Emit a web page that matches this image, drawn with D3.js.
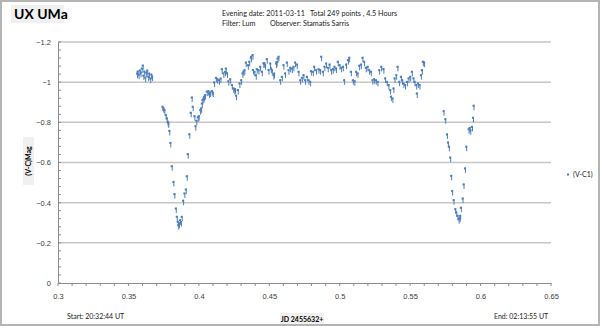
<!DOCTYPE html>
<html>
<head>
<meta charset="utf-8">
<script src="https://cdn.jsdelivr.net/npm/d3@7/dist/d3.min.js"></script>
<style>
  html, body { margin: 0; padding: 0; background: #fff; }
  svg { display: block; font-family: Lato, "Open Sans", sans-serif; }
</style>
</head>
<body>
<svg id="chart" width="600" height="326"></svg>
<script>
// Observation times (JD 2455632+)
const jd = [
  0.3561, 0.3565, 0.3572, 0.3580, 0.3586, 0.3594, 0.3601, 0.3606, 0.3612, 0.3619,
  0.3626, 0.3633, 0.3640, 0.3647, 0.3655, 0.3662, 0.3668,
  0.3741, 0.3748, 0.3755, 0.3765, 0.3772, 0.3779, 0.3783, 0.3790, 0.3797, 0.3807,
  0.3819, 0.3826, 0.3836, 0.3843, 0.3850, 0.3854, 0.3859, 0.3866, 0.3873, 0.3878,
  0.3888, 0.3897, 0.3907, 0.3914, 0.3921, 0.3932, 0.3942, 0.3949, 0.3956, 0.3968,
  0.3975, 0.3982, 0.3992, 0.3999, 0.4009, 0.4016, 0.4021, 0.4025, 0.4032, 0.4037,
  0.4044, 0.4056, 0.4067, 0.4072, 0.4080, 0.4092, 0.4099, 0.4108, 0.4121, 0.4130,
  0.4143, 0.4153, 0.4162, 0.4174, 0.4186, 0.4191, 0.4200, 0.4209, 0.4222, 0.4234,
  0.4245, 0.4252, 0.4257, 0.4264, 0.4276, 0.4288, 0.4300, 0.4309, 0.4316, 0.4323,
  0.4333, 0.4348, 0.4357, 0.4369, 0.4371, 0.4381, 0.4384, 0.4394, 0.4404, 0.4411,
  0.4423, 0.4435, 0.4447, 0.4458, 0.4465, 0.4470, 0.4482, 0.4494, 0.4506, 0.4511,
  0.4518, 0.4529, 0.4534, 0.4548, 0.4552, 0.4558, 0.4565, 0.4577, 0.4589, 0.4600,
  0.4612, 0.4624, 0.4636, 0.4648, 0.4660, 0.4671, 0.4683, 0.4695, 0.4707, 0.4719,
  0.4731, 0.4742, 0.4754, 0.4766, 0.4778, 0.4790, 0.4795, 0.4809, 0.4818, 0.4832,
  0.4849, 0.4861, 0.4868, 0.4880, 0.4891, 0.4903, 0.4915, 0.4927, 0.4939, 0.4951,
  0.4962, 0.4974, 0.4986, 0.4998, 0.5010, 0.5022, 0.5031, 0.5045, 0.5058, 0.5067,
  0.5079, 0.5093, 0.5104, 0.5116, 0.5126, 0.5138, 0.5150, 0.5161, 0.5173, 0.5185,
  0.5197, 0.5209, 0.5221, 0.5232, 0.5244, 0.5256, 0.5268, 0.5280, 0.5294, 0.5310,
  0.5322, 0.5334, 0.5346, 0.5358, 0.5363, 0.5374, 0.5381, 0.5389, 0.5401, 0.5410,
  0.5422, 0.5434, 0.5443, 0.5452, 0.5464, 0.5477, 0.5488, 0.5500, 0.5512, 0.5523,
  0.5531, 0.5543, 0.5547, 0.5555, 0.5566, 0.5576, 0.5583, 0.5590, 0.5599,
  0.5737, 0.5749, 0.5761, 0.5768, 0.5775, 0.5784, 0.5791, 0.5798, 0.5808, 0.5820,
  0.5827, 0.5836, 0.5844, 0.5851, 0.5855, 0.5860, 0.5872, 0.5879, 0.5889, 0.5898,
  0.5915, 0.5922, 0.5927, 0.5939, 0.5946, 0.5950
];

// Differential magnitude (V-C1)
const vc1 = [
  -1.035, -1.045, -1.030, -1.050, -1.040, -1.060, -1.075, -1.025, -1.045, -1.015,
  -1.040, -1.050, -1.020, -1.035, -1.010, -1.030, -1.020,
  -0.870, -0.862, -0.853, -0.828, -0.812, -0.795, -0.787, -0.750, -0.690, -0.574,
  -0.496, -0.435, -0.363, -0.322, -0.297, -0.280, -0.289, -0.305, -0.296, -0.322,
  -0.402, -0.438, -0.458, -0.524, -0.634, -0.733, -0.840, -0.916, -0.870, -0.823,
  -0.773, -0.800, -0.817, -0.823, -0.853, -0.862, -0.886, -0.903, -0.911, -0.920,
  -0.928, -0.945, -0.948, -0.936, -0.941, -0.948, -0.940, -0.991, -1.014, -1.007,
  -1.002, -1.010, -1.057, -1.036, -1.044, -1.060, -1.036, -0.997, -1.007, -0.978,
  -0.961, -0.953, -0.958, -0.925, -0.953, -0.986, -1.002, -1.036, -1.045, -1.052,
  -1.090, -1.077, -1.094, -1.114, -1.119, -1.127, -1.053, -1.044, -1.027, -1.057,
  -1.052, -1.069, -1.044, -1.086, -1.086, -1.077, -1.107, -1.053, -1.085, -1.060,
  -1.052, -1.027, -1.035, -1.085, -1.093, -1.110, -1.119, -1.002, -1.019, -1.077,
  -1.036, -1.090, -1.052, -1.064, -1.060, -1.069, -1.090, -1.080, -1.044, -1.002,
  -1.014, -1.027, -1.002, -1.019, -1.002, -0.994, -1.047, -1.044, -1.069, -1.052,
  -1.057, -1.052, -1.119, -1.044, -1.069, -1.085, -1.064, -1.080, -1.052, -1.057,
  -1.069, -1.060, -1.094, -1.077, -1.064, -1.069, -1.002, -1.080, -1.102, -1.114,
  -1.044, -1.002, -0.997, -1.044, -1.036, -1.074, -1.080, -1.114, -1.094, -1.064,
  -1.069, -1.052, -1.044, -1.002, -1.007, -1.002, -0.994, -1.052, -1.069, -1.057,
  -1.011, -0.994, -0.978, -0.953, -0.920, -0.911, -0.961, -1.011, -1.027, -1.069,
  -0.994, -1.019, -1.002, -0.986, -0.978, -0.994, -1.011, -1.019, -1.044, -1.011,
  -0.994, -0.978, -0.936, -0.986, -0.978, -1.027, -1.052, -1.094, -1.090,
  -0.848, -0.808, -0.732, -0.692, -0.671, -0.617, -0.526, -0.450, -0.405, -0.360,
  -0.344, -0.327, -0.310, -0.317, -0.327, -0.367, -0.413, -0.483, -0.563, -0.671,
  -0.758, -0.765, -0.753, -0.770, -0.815, -0.875
];

const xTicks = [0.3, 0.35, 0.4, 0.45, 0.5, 0.55, 0.6, 0.65];
const yTicks = [0, -0.2, -0.4, -0.6, -0.8, -1, -1.2];
const xMinorStep = 0.01;
const yMinorStep = 0.04;

const seriesName = "(V-C1)";
const titleText = "UX UMa";
const headerLine1 = ["Evening date: 2011-03-11", "Total 249 points , 4.5 Hours"];
const headerLine2 = ["Filter: Lum", "Observer: Stamatis Sarris"];
const startText = "Start: 20:32:44 UT";
const endText = "End: 02:13:55 UT";
const xTitle = "JD 2455632+";
const yTitle = "(V-C)Mag";

const svg = d3.select("#chart");
const W = 600, H = 326;
const plot = { left: 58, right: 551, top: 42, bottom: 283 };
const markColor = "#4a7ebb";
const textColor = "#404040";

// Outer frame
svg.append("rect")
  .attr("x", 1).attr("y", 1).attr("width", W - 2).attr("height", H - 2)
  .attr("fill", "#fff").attr("stroke", "#b4b4b4").attr("stroke-width", 2);

const x = d3.scaleLinear().domain([0.3, 0.65]).range([plot.left, plot.right]);
const y = d3.scaleLinear().domain([0, -1.2]).range([plot.bottom, plot.top]);

// Horizontal gridlines
svg.append("g").selectAll("line")
  .data(yTicks.filter(v => v !== 0))
  .join("line")
  .attr("x1", plot.left).attr("x2", plot.right)
  .attr("y1", d => y(d)).attr("y2", d => y(d))
  .attr("stroke", "#c6c6c6").attr("stroke-width", 1.5);

// Minor tick values
const xMinor = d3.range(0, 36).map(i => +(0.3 + i * xMinorStep).toFixed(3));
const yMinor = d3.range(0, 31).map(i => +(-i * yMinorStep).toFixed(3));

// X axis
const xAxis = d3.axisBottom(x).tickValues(xTicks).tickSize(0).tickPadding(11)
  .tickFormat(d => d3.format("")(+d.toFixed(2)));
const gx = svg.append("g").attr("transform", `translate(0,${plot.bottom})`).call(xAxis);
gx.select(".domain").attr("stroke", "#8c8c8c").attr("stroke-width", 1);
gx.selectAll("text").attr("fill", textColor).attr("font-size", 7.5);
gx.append("g").selectAll("line").data(xMinor).join("line")
  .attr("x1", d => x(d)).attr("x2", d => x(d)).attr("y1", 0).attr("y2", 3)
  .attr("stroke", "#8c8c8c").attr("stroke-width", 1);

// Y axis
const yAxis = d3.axisLeft(y).tickValues(yTicks).tickSize(0).tickPadding(7)
  .tickFormat(d => d3.format("")(+d.toFixed(1)));
const gy = svg.append("g").attr("transform", `translate(${plot.left},0)`).call(yAxis);
gy.select(".domain").attr("stroke", "#8c8c8c").attr("stroke-width", 1);
gy.selectAll("text").attr("fill", textColor).attr("font-size", 7.5);
gy.append("g").selectAll("line").data(yMinor).join("line")
  .attr("x1", 0).attr("x2", 3).attr("y1", d => y(d)).attr("y2", d => y(d))
  .attr("stroke", "#8c8c8c").attr("stroke-width", 1);

// Data marks: small blue dot with a short vertical stroke
const pts = jd.map((t, i) => ({ t, v: vc1[i] }));
const marks = svg.append("g").attr("fill", markColor).attr("stroke", markColor);
marks.selectAll("g").data(pts).join("g")
  .attr("transform", d => `translate(${x(d.t)},${y(d.v)})`)
  .each(function () {
    const g = d3.select(this);
    g.append("line").attr("x1", 0.5).attr("x2", 0.5).attr("y1", -2.5).attr("y2", 3)
      .attr("stroke-width", 1);
    g.append("rect").attr("x", -1).attr("y", -2.5).attr("width", 2).attr("height", 2)
      .attr("stroke", "none");
  });

// Title
svg.append("rect").attr("x", 11).attr("y", 5).attr("width", 53).attr("height", 18).attr("fill", "#f0f0f0");
svg.append("text").attr("x", 14).attr("y", 19).text(titleText)
  .attr("font-size", 14).attr("font-weight", "bold").attr("fill", "#000");

// Header info
const hdr = svg.append("g").attr("font-size", 7.2).attr("fill", "#222");
hdr.append("text").attr("x", 222).attr("y", 16).text(headerLine1[0]);
hdr.append("text").attr("x", 310).attr("y", 16).text(headerLine1[1]);
hdr.append("text").attr("x", 222).attr("y", 26).text(headerLine2[0]);
hdr.append("text").attr("x", 270).attr("y", 26).text(headerLine2[1]);

// Y axis title
svg.append("rect").attr("x", 23).attr("y", 137).attr("width", 11).attr("height", 48).attr("fill", "#f0f0f0");
svg.append("text").attr("transform", "translate(31,161) rotate(-90)")
  .attr("text-anchor", "middle").attr("font-size", 7).attr("font-weight", "bold")
  .attr("fill", "#000").text(yTitle);

// X axis title
svg.append("rect").attr("x", 280).attr("y", 313).attr("width", 44).attr("height", 11).attr("fill", "#f0f0f0");
svg.append("text").attr("x", 302).attr("y", 321.5).attr("text-anchor", "middle")
  .attr("font-size", 7).attr("font-weight", "bold").attr("fill", "#000").text(xTitle);

// Start / end times
svg.append("text").attr("x", 67).attr("y", 319).attr("font-size", 7).attr("fill", "#222").text(startText);
svg.append("text").attr("x", 494).attr("y", 319).attr("font-size", 7).attr("fill", "#222").text(endText);

// Legend
svg.append("rect").attr("x", 567).attr("y", 173.5).attr("width", 2).attr("height", 2).attr("fill", markColor);
svg.append("text").attr("x", 573).attr("y", 177).attr("font-size", 7).attr("fill", "#222").text(seriesName);
</script>
</body>
</html>
